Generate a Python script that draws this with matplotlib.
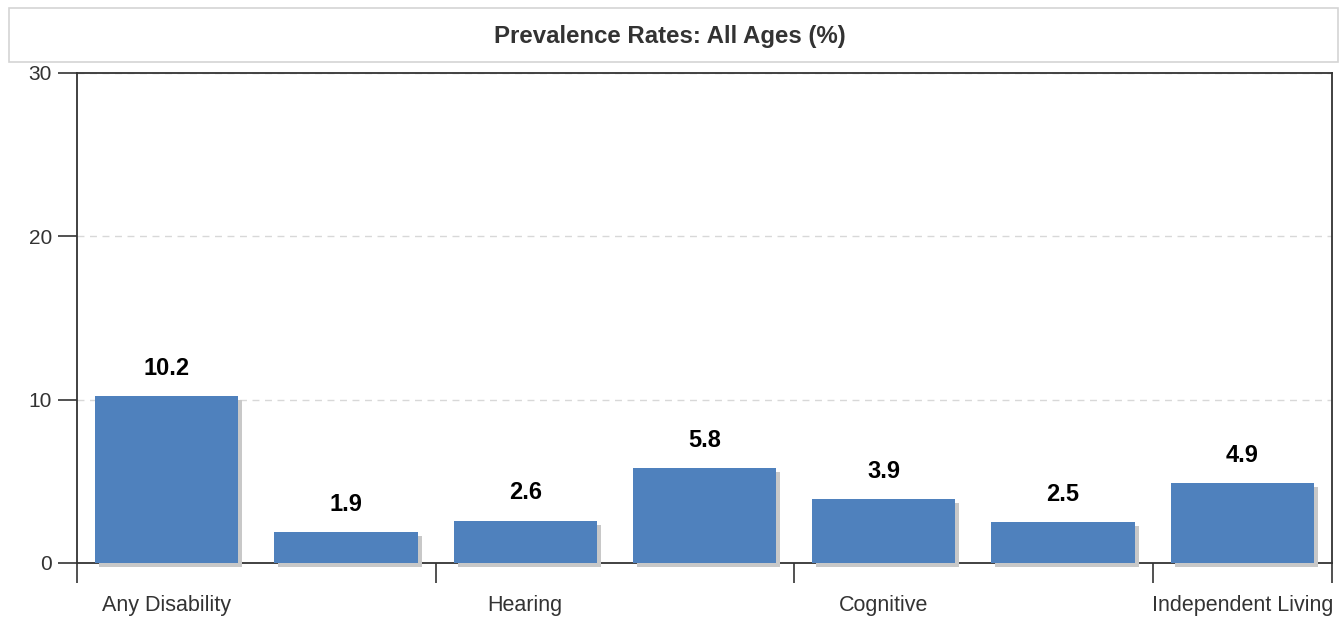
# Prevalence Rates: All Ages (%)
import matplotlib
matplotlib.use("Agg")
import matplotlib.pyplot as plt
import matplotlib.transforms as mtransforms
from matplotlib.patches import Rectangle

categorias = ["Any Disability", "Visual", "Hearing", "Ambulatory", "Cognitive", "Self-Care", "Independent Living"]
valores = [10.2, 1.9, 2.6, 5.8, 3.9, 2.5, 4.9]
yticks = [0, 10, 20, 30]

plt.rcParams["font.family"] = ["Liberation Sans", "DejaVu Sans"]

fig = plt.figure(figsize=(13.4, 6.18), dpi=100)

# caixa do titulo
fig.patches.append(Rectangle((0.0067, 0.8997), 0.992, 0.0874, transform=fig.transFigure,
                             facecolor="white", edgecolor="#d4d4d4", linewidth=1.2))
fig.text(0.5, 0.941, "Prevalence Rates: All Ages (%)", ha="center", va="center",
         fontsize=17.3, fontweight="bold", color="#333333")

ax = fig.add_axes([0.0575, 0.089, 0.9365, 0.793])
x = list(range(len(categorias)))

# sombra das barras
sombra = ax.transData + mtransforms.ScaledTranslation(4 / 100, -4 / 100, fig.dpi_scale_trans)
ax.bar(x, valores, width=0.8, color="#c8c8c8", transform=sombra, zorder=2.9, clip_on=False)
barras = ax.bar(x, valores, width=0.8, color="#4f81bd", zorder=3)

for xi, v in zip(x, valores):
    ax.annotate(f"{v:.1f}", (xi, v), xytext=(0, 20), textcoords="offset points",
                ha="center", va="center", fontsize=17, fontweight="bold", color="black")

ax.set_xlim(-0.5, len(categorias) - 0.5)
ax.set_ylim(0, 30)
ax.set_yticks(yticks)
ax.yaxis.grid(True, linestyle=(0, (5, 4)), color="#d8d8d8", linewidth=1)
ax.set_axisbelow(True)

# ticks nas divisas, rotulos a cada dois
ax.set_xticks([-0.5, 1.5, 3.5, 5.5, 6.5])
ax.set_xticklabels([])
ax.set_xticks(x[::2], minor=True)
ax.set_xticklabels(categorias[::2], minor=True)
ax.tick_params(axis="x", which="major", length=14.5, width=1.2, color="#333333", direction="out")
ax.tick_params(axis="x", which="minor", length=0, pad=23, labelsize=15.5, labelcolor="#333333")
ax.tick_params(axis="y", length=14, width=1.2, color="#333333", labelsize=15, labelcolor="#333333", pad=4)

for s in ax.spines.values():
    s.set_color("#333333")
    s.set_linewidth(1.3)

fig.savefig("out.png", dpi=100)
